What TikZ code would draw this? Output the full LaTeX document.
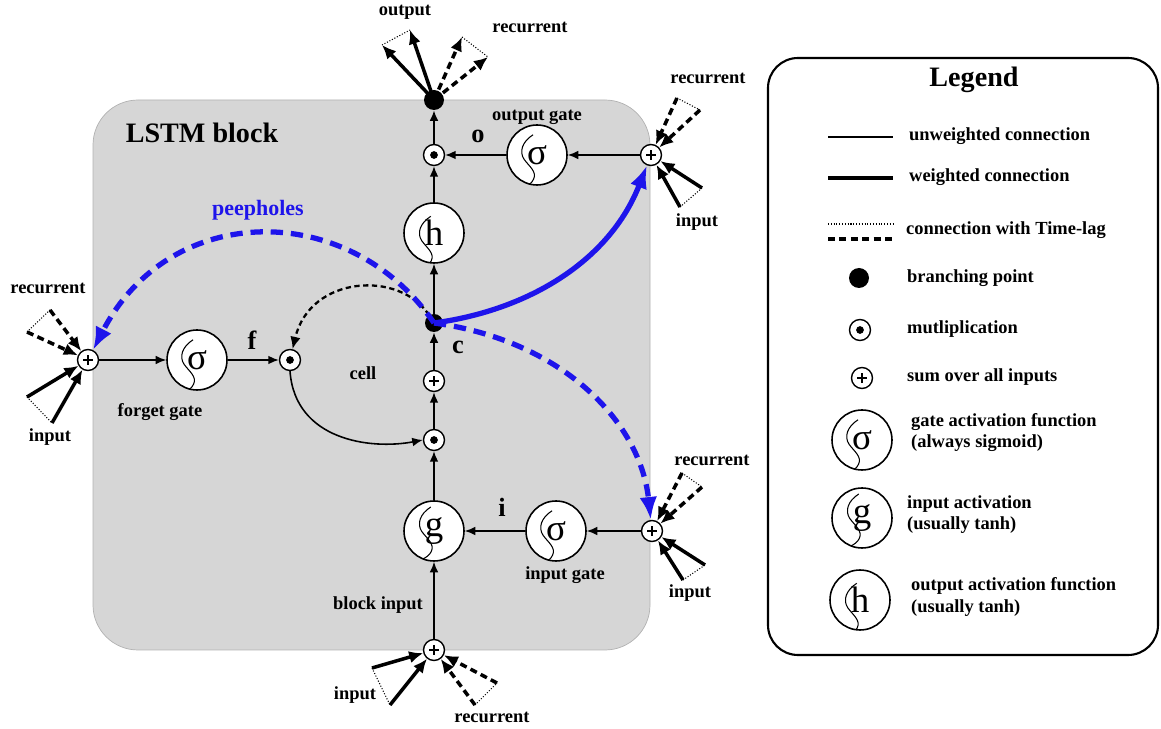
\documentclass[tikz,border=0pt]{standalone}
\usepackage{fontspec}
\setmainfont{Liberation Serif}
\usetikzlibrary{arrows.meta, calc, positioning}

\definecolor{peepblue}{RGB}{30,20,235}
\definecolor{blockgray}{RGB}{214,214,214}

\tikzset{
  sumnode/.style={circle, draw, fill=white, line width=0.8pt, minimum size=0.42cm, inner sep=0pt,
    path picture={
      \draw[black, line width=0.6pt] ([xshift=-0.1cm]path picture bounding box.center) -- ([xshift=0.1cm]path picture bounding box.center);
      \draw[black, line width=0.6pt] ([yshift=-0.1cm]path picture bounding box.center) -- ([yshift=0.1cm]path picture bounding box.center);}},
  mulnode/.style={circle, draw, fill=white, line width=0.8pt, minimum size=0.42cm, inner sep=0pt,
    path picture={\fill[black] (path picture bounding box.center) circle (2.2pt);}},
  branch/.style={circle, fill=black, minimum size=0.4cm, inner sep=0pt},
  act/.style={circle, draw, fill=white, line width=0.9pt, minimum size=1.2cm, inner sep=0pt,
    font=\fontsize{21}{21}\selectfont,
    path picture={\draw[black, line width=0.6pt, shift={(path picture bounding box.center)}]
      (0.12cm,0.59cm) .. controls (-0.1cm,0.45cm) and (-0.16cm,0.25cm) .. (-0.06cm,0.1cm)
      .. controls (0.05cm,-0.05cm) and (0.2cm,-0.15cm) .. (0.13cm,-0.3cm)
      .. controls (0.06cm,-0.45cm) and (-0.15cm,-0.5cm) .. (-0.32cm,-0.5cm);}},
  lab/.style={font=\bfseries\fontsize{10.5}{12}\selectfont},
  biglab/.style={font=\bfseries\fontsize{15}{16}\selectfont},
  conn/.style={line width=0.9pt, -{Latex[length=6pt,width=5pt]}},
  weighted/.style={line width=2pt, -{Latex[length=8pt,width=7pt]}},
  lagged/.style={line width=2pt, dash pattern=on 4pt off 2.5pt, -{Latex[length=8pt,width=7pt]}},
  tri/.style={line width=0.6pt, densely dotted},
  peep/.style={peepblue, line width=3pt, -{Latex[length=13pt,width=10pt]}},
}

\begin{document}
\begin{tikzpicture}[x=0.02cm, y=-0.02cm]
\useasboundingbox (0,0) rectangle (1161,729);

% block and legend frames
\draw[fill=blockgray, draw=gray!60, rounded corners=0.9cm] (93,100) rectangle (650,650);
\node[font=\bfseries\fontsize{16}{18}\selectfont] at (202,133) {LSTM block};
\draw[line width=1.2pt, rounded corners=0.6cm] (768,58) rectangle (1158,655);
\node[font=\bfseries\fontsize{16}{18}\selectfont] at (974,80) {Legend};

% nodes of the block
\node[branch] (od) at (434,100) {};
\node[mulnode] (om) at (434,155) {};
\node[act] (og) at (537,155) {σ};
\node[sumnode] (os) at (651,155) {};
\node[act] (h) at (434,233) {h};
\node[branch, minimum size=0.36cm] (c) at (434,323) {};
\node[sumnode] (cs) at (434,381) {};
\node[mulnode] (im) at (434,440) {};
\node[act] (g) at (434,531) {g};
\node[act] (ig) at (556,531) {σ};
\node[sumnode] (is) at (652,531) {};
\node[sumnode] (bs) at (434,650) {};
\node[sumnode] (ls) at (88,360) {};
\node[act] (fg) at (197,360) {σ};
\node[mulnode] (fm) at (290,360) {};

% labels
\node[lab] at (537,117) {output gate};
\node[biglab] at (478,136) {o};
\node[lab] at (160,412) {forget gate};
\node[biglab] at (252,340) {f};
\node[lab] at (363,373) {cell};
\node[biglab] at (458,347) {c};
\node[biglab] at (502,507) {i};
\node[lab] at (565,575) {input gate};
\node[lab] at (378,605) {block input};
\node[font=\bfseries\fontsize{12.5}{14}\selectfont, text=peepblue] at (258,210) {peepholes};
\node[lab] at (405,12) {output};
\node[lab] at (530,27) {recurrent};
\node[lab] at (708,78) {recurrent};
\node[lab] at (697,222) {input};
\node[lab] at (712,460) {recurrent};
\node[lab] at (690,593) {input};
\node[lab] at (355,695) {input};
\node[lab] at (492,717) {recurrent};
\node[lab] at (48,288) {recurrent};
\node[lab] at (50,437) {input};

% cell connections
\draw[conn] (bs) -- (g);
\draw[conn] (g) -- (im);
\draw[conn] (im) -- (cs);
\draw[conn] (cs) -- (c);
\draw[conn] (c) -- (h);
\draw[conn] (h) -- (om);
\draw[conn] (om) -- (od);
\draw[conn] (og) -- (om);
\draw[conn] (os) -- (og);
\draw[conn] (is) -- (ig);
\draw[conn] (ig) -- (g);
\draw[conn] (ls) -- (fg);
\draw[conn] (fg) -- (fm);
\draw[conn] (fm.south) .. controls (295,440) and (370,450) .. (im.west);
\draw[line width=1.3pt, dash pattern=on 3pt off 2pt, -{Latex[length=7pt,width=6pt]}]
  (c) .. controls (400,270) and (310,275) .. (fm);

% peepholes
\draw[peep, dash pattern=on 7pt off 4.5pt] (c.center) .. controls (350,200) and (170,200) .. (ls);
\draw[peep, dash pattern=on 7pt off 4.5pt] (c.center) .. controls (560,340) and (640,420) .. (is);
\draw[peep] (c.center) .. controls (530,310) and (610,260) .. (os);

% inputs and recurrent connections
\foreach \n/\ax/\ay/\bx/\by/\cx/\cy/\dx/\dy in {
  ls/27/397/52/423/27/332/50/310,
  os/680/207/702/188/677/98/700/110,
  is/683/580/705/565/682/473/702/487,
  bs/372/668/390/705/475/705/497/683} {
  \coordinate (\n-a) at (\ax,\ay);
  \coordinate (\n-b) at (\bx,\by);
  \coordinate (\n-c) at (\cx,\cy);
  \coordinate (\n-d) at (\dx,\dy);
  \draw[tri] (\n-a) -- (\n-b);
  \draw[tri] (\n-c) -- (\n-d);
  \draw[weighted] (\n-a) -- (\n);
  \draw[weighted] (\n-b) -- (\n);
  \draw[lagged] (\n-c) -- (\n);
  \draw[lagged] (\n-d) -- (\n);
}

% outgoing connections
\coordinate (out-a) at (382,45);
\coordinate (out-b) at (410,30);
\coordinate (out-c) at (462,37);
\coordinate (out-d) at (488,57);
\draw[tri] (out-a) -- (out-b);
\draw[tri] (out-c) -- (out-d);
\draw[weighted] (od.center) -- (out-a);
\draw[weighted] (od.center) -- (out-b);
\draw[lagged] (od.center) -- (out-c);
\draw[lagged] (od.center) -- (out-d);

% legend entries
\coordinate (l1a) at (828,137); \coordinate (l1b) at (893,137);
\draw[line width=0.6pt] (l1a) -- (l1b);
\node[lab, anchor=west] at (903,136) {unweighted connection};
\coordinate (l2a) at (828,178); \coordinate (l2b) at (893,178);
\draw[line width=2pt] (l2a) -- (l2b);
\node[lab, anchor=west] at (903,177) {weighted connection};
\coordinate (l3a) at (828,224); \coordinate (l3b) at (893,224);
\coordinate (l4a) at (828,239); \coordinate (l4b) at (893,239);
\draw[tri] (l3a) -- (l3b);
\draw[line width=2pt, dash pattern=on 4pt off 2.5pt] (l4a) -- (l4b);
\node[lab, anchor=west] at (900,230) {connection with Time-lag};
\node[branch] (lbr) at (859,278) {};
\node[lab, anchor=west] at (901,278) {branching point};
\node[mulnode] (lmul) at (860,330) {};
\node[lab, anchor=west] at (901,329) {mutliplication};
\node[sumnode] (lsum) at (862,378) {};
\node[lab, anchor=west] at (901,377) {sum over all inputs};
\node[act] (lsig) at (862,440) {σ};
\node[lab, anchor=west, align=left] at (905,433) {gate activation function\\(always sigmoid)};
\node[act] (lg) at (862,518) {g};
\node[lab, anchor=west, align=left] at (901,515) {input activation\\(usually tanh)};
\node[act] (lh) at (860,600) {h};
\node[lab, anchor=west, align=left] at (905,597) {output activation function\\(usually tanh)};
\end{tikzpicture}
\end{document}
